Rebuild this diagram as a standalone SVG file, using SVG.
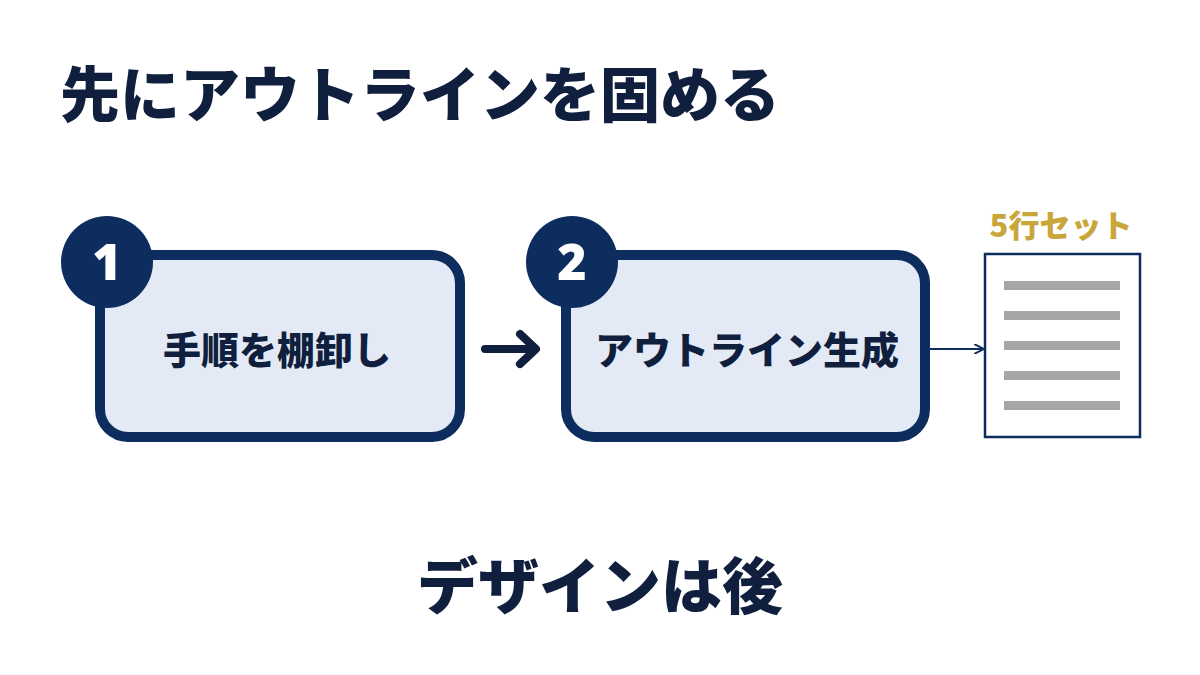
<svg xmlns="http://www.w3.org/2000/svg" width="1200" height="675" viewBox="0 0 1200 675">
<style>
text{font-family:"Noto Sans CJK JP","Noto Sans",sans-serif;font-weight:900;fill:#0f1f3d}
.box{fill:#e4eaf5;stroke:#0d2d5e;stroke-width:10}
.num{fill:#0d2d5e}
.nt{fill:#fff;font-size:50px;font-family:"Noto Sans",sans-serif}
.ln{fill:#a6a6a6}
</style>
<defs><marker id="ah" viewBox="0 0 10 10" refX="9" refY="5" markerWidth="10" markerHeight="10" markerUnits="userSpaceOnUse" orient="auto"><path d="M0,0 L10,5 L0,10" fill="none" stroke="#0d2d5e" stroke-width="2"/></marker></defs>
<rect width="1200" height="675" fill="#fff"/>
<text x="60" y="117" font-size="60">先にアウトラインを固める</text>
<g id="step1"><rect class="box" x="100" y="255" width="360" height="182" rx="28"/><circle class="num" cx="107" cy="262" r="46"/><text class="nt" x="107" y="280" text-anchor="middle">1</text><text x="277" y="364" font-size="38" text-anchor="middle">手順を棚卸し</text></g>
<g id="step2"><rect class="box" x="566" y="255" width="359" height="182" rx="28"/><circle class="num" cx="572" cy="262" r="46"/><text class="nt" x="572" y="280" text-anchor="middle">2</text><text x="747" y="364" font-size="38" text-anchor="middle">アウトライン生成</text></g>
<g id="doc"><text x="1061" y="237" font-size="31" text-anchor="middle" style="fill:#c9a63a">5行セット</text><rect x="985" y="254" width="155" height="183" fill="#fff" stroke="#0d2d5e" stroke-width="2.5"/>
<rect class="ln" x="1004" y="281" width="116" height="9"/><rect class="ln" x="1004" y="311" width="116" height="9"/><rect class="ln" x="1004" y="341" width="116" height="9"/><rect class="ln" x="1004" y="371" width="116" height="9"/><rect class="ln" x="1004" y="401" width="116" height="9"/></g>
<g id="connectors">
<path d="M485,349 H535 M520,334 L536,349 L520,364" fill="none" stroke="#0f1f3d" stroke-width="8" stroke-linecap="round" stroke-linejoin="round"/>
<line x1="928" y1="349" x2="983" y2="349" stroke="#0d2d5e" stroke-width="2" marker-end="url(#ah)"/>
</g>
<text x="600" y="609" font-size="61" text-anchor="middle">デザインは後</text>
</svg>
